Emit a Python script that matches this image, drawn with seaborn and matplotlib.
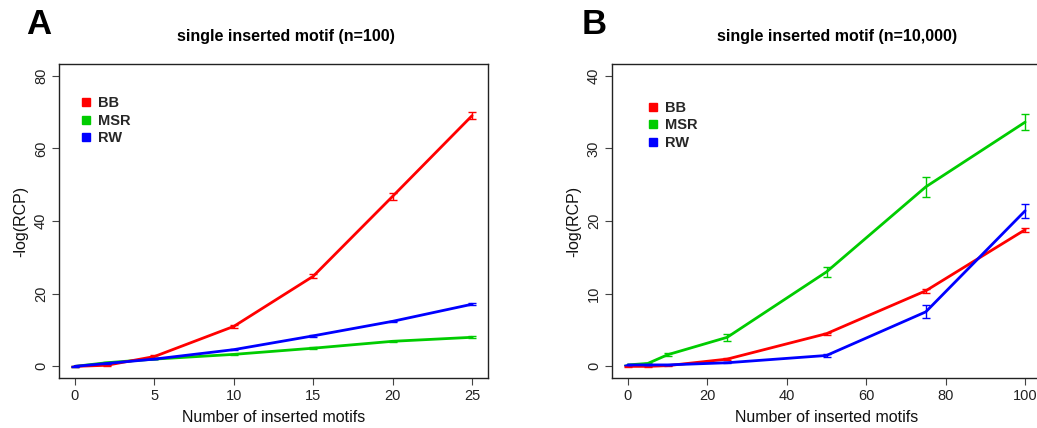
import numpy as np
import pandas as pd
import matplotlib
matplotlib.use("Agg")
import matplotlib.pyplot as plt
import seaborn as sns
from matplotlib.lines import Line2D

# ---- Data ----
methods = ["BB", "MSR", "RW"]
colors = {"BB": "#ff0000", "MSR": "#00cc00", "RW": "#0000ff"}

a_x = [0, 2, 5, 10, 15, 20, 25]
a_bb = [0.0, 0.3, 2.7, 11.0, 24.8, 46.8, 69.0]
a_bb_err = [0.1, 0.2, 0.3, 0.5, 0.6, 0.9, 1.0]
a_msr = [0.0, 1.0, 2.0, 3.3, 5.0, 6.9, 8.0]
a_msr_err = [0.05, 0.1, 0.1, 0.2, 0.2, 0.2, 0.3]
a_rw = [0.0, 0.8, 2.0, 4.6, 8.4, 12.4, 17.1]
a_rw_err = [0.05, 0.1, 0.1, 0.2, 0.2, 0.2, 0.3]

b_x = [0, 5, 10, 25, 50, 75, 100]
b_bb = [0.0, 0.0, 0.1, 1.0, 4.5, 10.4, 18.8]
b_bb_err = [0.02, 0.02, 0.05, 0.1, 0.15, 0.3, 0.3]
b_msr = [0.2, 0.4, 1.6, 4.0, 13.0, 24.7, 33.6]
b_msr_err = [0.05, 0.1, 0.2, 0.5, 0.7, 1.4, 1.1]
b_rw = [0.2, 0.2, 0.2, 0.5, 1.5, 7.5, 21.4]
b_rw_err = [0.05, 0.05, 0.05, 0.1, 0.25, 0.9, 1.0]

titles = ["single inserted motif (n=100)", "single inserted motif (n=10,000)"]
panel_letters = ["A", "B"]
x_ticks = [[0, 5, 10, 15, 20, 25], [0, 20, 40, 60, 80, 100]]
y_ticks = [[0, 20, 40, 60, 80], [0, 10, 20, 30, 40]]
x_label = "Number of inserted motifs"
y_label = "-log(RCP)"


def make_df(x, bb, bbe, msr, msre, rw, rwe):
    rows = []
    for m, ys, es in [("BB", bb, bbe), ("MSR", msr, msre), ("RW", rw, rwe)]:
        for xi, yi, ei in zip(x, ys, es):
            rows.append({"x": xi, "y": yi, "err": ei, "method": m})
    return pd.DataFrame(rows)


dfs = [make_df(a_x, a_bb, a_bb_err, a_msr, a_msr_err, a_rw, a_rw_err),
       make_df(b_x, b_bb, b_bb_err, b_msr, b_msr_err, b_rw, b_rw_err)]

sns.set_style("white")
plt.rcParams['font.family'] = ['Liberation Sans', 'DejaVu Sans']

W, H = 1037, 428
fig = plt.figure(figsize=(W / 100, H / 100), dpi=100)

axes_px = [(59, 64, 429, 314), (612, 64, 429, 314)]
xlims = [(-1, 26), (-4, 104)]
ylims = [(-3.2, 83.2), (-1.6, 41.6)]
title_px = [(286, 37), (837, 37)]
letter_px = [(26, 25), (582, 25)]
legend_anchor = [(0.012, 0.94), (0.045, 0.925)]

for i, df in enumerate(dfs):
    l, t, w, h = axes_px[i]
    ax = fig.add_axes([l / W, 1 - (t + h) / H, w / W, h / H])
    for m in ["MSR", "BB", "RW"]:
        sub = df[df.method == m]
        sns.lineplot(data=sub, x="x", y="y", color=colors[m], lw=2, ax=ax,
                     legend=False, errorbar=None)
        ax.errorbar(sub["x"], sub["y"], yerr=sub["err"], fmt="none",
                    ecolor=colors[m], elinewidth=1, capsize=3, capthick=1)
    ax.set_xlim(*xlims[i])
    ax.set_ylim(*ylims[i])
    ax.set_xticks(x_ticks[i])
    ax.set_yticks(y_ticks[i])
    ax.set_yticklabels([str(v) for v in y_ticks[i]], rotation=90, va="center")
    ax.tick_params(axis="both", direction="out", length=5, width=0.8,
                   color="#444444", labelsize=10.5, labelcolor="#222222",
                   bottom=True, left=True, pad=3)
    for s in ax.spines.values():
        s.set_color("#222222")
        s.set_linewidth(1.0)
    ax.set_xlabel(x_label, fontsize=11.5, labelpad=5, color="#111111")
    ax.set_ylabel(y_label, fontsize=11.5, labelpad=4, color="#111111")
    tx, ty = title_px[i]
    fig.text(tx / W, 1 - ty / H, titles[i], fontsize=11.5, fontweight="bold",
             ha="center", va="center", color="black")
    handles = [Line2D([], [], marker="s", linestyle="none", color=colors[m],
                      markersize=6) for m in methods]
    ax.legend(handles, methods, loc="upper left", frameon=False,
              bbox_to_anchor=legend_anchor[i], handletextpad=0.2,
              labelspacing=0.25, prop={"weight": "bold", "size": 10.5},
              handlelength=1.2)
    lx, ly = letter_px[i]
    fig.text(lx / W, 1 - ly / H, panel_letters[i], fontsize=25,
             fontweight="bold", ha="left", va="center", color="black")

fig.savefig("out.png", dpi=100)
